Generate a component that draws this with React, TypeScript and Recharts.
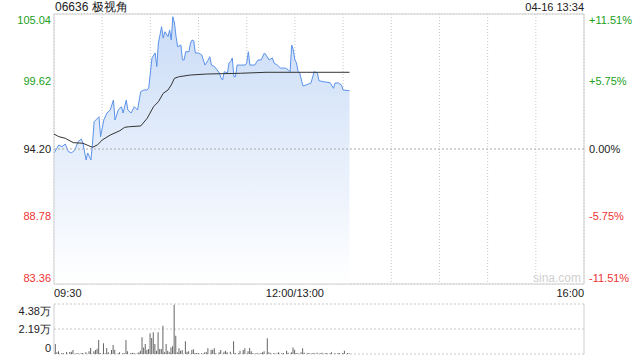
import { ComposedChart, Area, Line, Bar, XAxis, YAxis, CartesianGrid, ReferenceArea, ReferenceLine } from 'recharts'

const basePrice = 94.2
const priceTicks = [83.36, 88.78, 94.2, 99.62, 105.04]
const volTicks = [0, 21900, 43800]
const gridTimes = [0, 30, 60, 90, 120, 150, 180, 210, 240, 270, 300, 330]
const timeLabels: Record<number, string> = { 0: '09:30', 150: '12:00/13:00', 330: '16:00' }

// minutes since 09:30 (lunch removed) and last price
const priceT = [0, 3, 5, 7, 9, 11, 13, 15, 17, 18, 20, 21, 23, 24, 25, 28, 29, 31, 33, 35, 37, 38, 40, 42, 43, 45, 46, 48, 50, 52, 54, 56, 58, 59, 61, 63, 64, 65, 67, 68, 69, 71, 72, 73, 74, 75, 76, 77, 79, 80, 81, 82, 84, 85, 86, 87, 88, 90, 92, 94, 96, 97, 98, 100, 103, 104, 105, 106, 108, 109, 110, 111, 112, 113, 114, 116, 119, 120, 121, 122, 125, 127, 129, 131, 132, 134, 136, 137, 139, 141, 144, 146, 147, 148, 149, 150, 151, 152, 153, 155, 157, 160, 162, 164, 165, 168, 172, 174, 175, 177, 179, 180, 184]
const priceV = [93.88, 94.52, 94.38, 94.6, 93.98, 93.9, 94.12, 94.79, 95.0, 94.68, 93.32, 93.88, 93.32, 94.68, 96.39, 96.79, 95.19, 96.53, 97.09, 97.33, 98.13, 96.53, 97.33, 97.6, 97.09, 98.13, 97.33, 97.09, 97.6, 97.33, 98.8, 98.94, 98.94, 99.1, 101.51, 101.91, 100.81, 102.71, 104.02, 103.11, 103.62, 103.22, 103.76, 102.95, 104.82, 104.32, 103.22, 102.41, 102.55, 101.35, 101.35, 102.01, 102.01, 102.71, 102.95, 102.9, 101.91, 101.91, 101.75, 100.94, 101.35, 101.61, 100.94, 100.81, 100.3, 99.9, 99.74, 100.41, 100.3, 101.11, 101.21, 101.51, 100.01, 100.01, 100.94, 100.94, 100.94, 101.11, 102.01, 100.94, 100.94, 101.35, 101.35, 101.91, 101.75, 101.35, 101.51, 101.11, 100.94, 100.7, 100.7, 100.54, 100.41, 102.55, 102.15, 101.35, 101.11, 100.41, 100.3, 99.26, 99.34, 99.5, 100.41, 100.3, 99.68, 99.6, 99.52, 99.07, 99.5, 99.5, 99.34, 98.94, 98.88]

const avgT = [0, 3, 7, 12, 18, 22, 24, 27, 30, 35, 41, 44, 47, 54, 58, 62, 65, 68, 71, 73, 75, 78, 85, 95, 116, 132, 157, 184]
const avgV = [95.4, 95.19, 95.06, 94.71, 94.66, 94.44, 94.34, 94.52, 94.92, 95.32, 95.67, 95.94, 95.99, 96.05, 96.66, 97.6, 98.0, 98.67, 98.94, 99.34, 99.88, 100.01, 100.14, 100.22, 100.28, 100.36, 100.36, 100.36]

const volT = [1, 2, 3, 5, 6, 8, 10, 11, 12, 14, 15, 17, 18, 20, 22, 23, 25, 26, 27, 28, 29, 31, 32, 33, 34, 36, 37, 38, 40, 41, 43, 44, 45, 46, 48, 49, 50, 52, 53, 54, 55, 56, 57, 58, 59, 60, 61, 62, 63, 64, 65, 66, 67, 68, 69, 70, 71, 72, 73, 74, 75, 76, 77, 78, 79, 80, 82, 83, 84, 86, 87, 88, 89, 90, 92, 94, 95, 96, 98, 99, 100, 101, 103, 104, 106, 107, 108, 110, 112, 113, 115, 116, 118, 119, 121, 122, 123, 124, 126, 127, 129, 130, 131, 133, 134, 135, 137, 139, 140, 142, 143, 145, 146, 148, 149, 150, 151, 152, 154, 155, 156, 158, 159, 161, 162, 164, 166, 167, 169, 170, 172, 173, 175, 177, 178, 180, 181, 183, 184]
const volV = [8760, 1500, 2300, 900, 600, 1750, 1750, 2000, 3500, 600, 600, 600, 900, 1500, 2300, 5260, 2300, 3500, 4700, 12260, 900, 9340, 600, 5260, 1500, 3500, 7880, 3800, 600, 1500, 600, 600, 12260, 2300, 600, 1200, 900, 600, 1500, 2900, 14600, 5800, 8760, 3500, 4400, 18100, 14000, 19000, 8760, 2900, 19000, 4400, 4400, 24800, 1500, 8760, 2900, 1500, 5800, 6700, 43200, 16060, 1500, 5000, 2900, 3500, 11100, 2000, 2300, 3500, 4100, 600, 900, 900, 600, 1500, 1500, 5000, 3800, 3800, 5000, 600, 1500, 3500, 2000, 2900, 1500, 2000, 11100, 900, 600, 2900, 3500, 5000, 2300, 5260, 2300, 900, 600, 600, 900, 1500, 2300, 13700, 1500, 600, 900, 600, 1500, 600, 900, 2900, 1200, 1500, 5800, 3800, 900, 600, 1500, 5000, 1200, 600, 900, 600, 900, 1200, 600, 1200, 600, 900, 600, 1500, 600, 900, 600, 900, 2900, 900, 600]

const priceData = priceT.map((t, i) => ({ t, p: priceV[i] }))
const avgData = avgT.map((t, i) => ({ t, a: avgV[i] }))
const volData = volT.map((t, i) => ({ t, v: volV[i] }))

const UP = '#21a021'
const DOWN = '#ee3333'
const FONT = 'Arial, "Liberation Sans", sans-serif'

function colorFor(v: number) {
  if (Math.abs(v - basePrice) < 0.001) return '#222'
  return v > basePrice ? UP : DOWN
}

function edgeShift(index: number, count: number) {
  if (index === 0) return -6
  if (index === count - 1) return 6
  return 0
}

function PriceTick(props: any) {
  const { y, payload, index } = props
  const v = payload.value as number
  return (
    <text x={51} y={y + edgeShift(index, priceTicks.length)} dy="0.35em" textAnchor="end" fontSize={11} fontFamily={FONT} fill={colorFor(v)}>
      {v.toFixed(2)}
    </text>
  )
}

function PctTick(props: any) {
  const { y, payload, index } = props
  const v = payload.value as number
  const pct = (v / basePrice - 1) * 100
  const s = Math.abs(pct) < 0.001 ? '0.00%' : (pct > 0 ? '+' : '') + pct.toFixed(2) + '%'
  return (
    <text x={589} y={y + edgeShift(index, priceTicks.length)} dy="0.35em" textAnchor="start" fontSize={11} fontFamily={FONT} fill={colorFor(v)}>
      {s}
    </text>
  )
}

function TimeTick(props: any) {
  const { x, y, payload } = props
  const label = timeLabels[payload.value]
  if (!label) return null
  const anchor = payload.value === 0 ? 'start' : payload.value === 330 ? 'end' : 'middle'
  return (
    <text x={x} y={y} dy={5} textAnchor={anchor} fontSize={11} fontFamily={FONT} fill="#222">
      {label}
    </text>
  )
}

function VolTick(props: any) {
  const { y, payload, index } = props
  const v = payload.value as number
  const s = v === 0 ? '0' : (v / 10000).toFixed(2) + '万'
  const shift = index === 0 ? -6 : index === volTicks.length - 1 ? 7 : 0
  return (
    <text x={51} y={y + shift} dy="0.35em" textAnchor="end" fontSize={11} fontFamily={FONT} fill="#222">
      {s}
    </text>
  )
}

export default function App() {
  return (
    <div style={{ position: 'absolute', left: 0, top: 0, width: 640, height: 360, background: '#fff', fontFamily: FONT }}>
      <div style={{ position: 'absolute', left: 55, top: 0, fontSize: 12, color: '#222', lineHeight: '15px' }}>06636 极视角</div>
      <div style={{ position: 'absolute', right: 56, top: 0, fontSize: 11, color: '#222', lineHeight: '15px' }}>04-16 13:34</div>
      <div style={{ position: 'absolute', left: 533, top: 271, fontSize: 12, color: '#d0d0d0', lineHeight: '15px' }}>sina.com</div>

      <div style={{ position: 'absolute', left: 0, top: 0 }}>
        <ComposedChart width={640} height={300} margin={{ top: 14, right: 0, bottom: 0, left: 0 }}>
          <defs>
            <linearGradient id="pfill" x1="0" y1="0" x2="0" y2="1">
              <stop offset="0%" stopColor="#cadcf7" />
              <stop offset="100%" stopColor="#ffffff" />
            </linearGradient>
          </defs>
          <CartesianGrid stroke="#c8c8c8" strokeDasharray="1 2" />
          <XAxis dataKey="t" type="number" domain={[0, 330]} ticks={gridTimes} interval={0} axisLine={false} tickLine={false} height={16} tick={<TimeTick />} allowDataOverflow />
          <YAxis yAxisId="p" type="number" domain={[83.36, 105.04]} ticks={priceTicks} interval={0} width={54} axisLine={false} tickLine={false} tick={<PriceTick />} allowDataOverflow />
          <YAxis yAxisId="pct" orientation="right" type="number" domain={[83.36, 105.04]} ticks={priceTicks} interval={0} width={56} axisLine={false} tickLine={false} tick={<PctTick />} allowDataOverflow />
          <ReferenceLine yAxisId="p" y={basePrice} stroke="#aaa" strokeDasharray="2 2" />
          <Area yAxisId="p" data={priceData} dataKey="p" type="linear" stroke="#5b92ea" strokeWidth={1} fill="url(#pfill)" fillOpacity={1} dot={false} activeDot={false} isAnimationActive={false} />
          <Line yAxisId="p" data={avgData} dataKey="a" type="linear" stroke="#333" strokeWidth={1} dot={false} activeDot={false} isAnimationActive={false} />
          <ReferenceArea yAxisId="p" x1={0} x2={330} y1={83.36} y2={105.04} fill="none" stroke="#cfcfcf" strokeWidth={1} />
        </ComposedChart>
      </div>

      <div style={{ position: 'absolute', left: 0, top: 296 }}>
        <ComposedChart width={640} height={64} data={volData} margin={{ top: 8, right: 56, bottom: 6, left: 0 }}>
          <CartesianGrid stroke="#c8c8c8" strokeDasharray="2 2" vertical={false} />
          <XAxis dataKey="t" type="number" domain={[0, 330]} hide allowDataOverflow />
          <YAxis type="number" domain={[0, 43800]} ticks={volTicks} interval={0} width={54} axisLine={false} tickLine={false} tick={<VolTick />} allowDataOverflow />
          <ReferenceLine x={0} stroke="#cfcfcf" />
          <ReferenceLine x={330} stroke="#cfcfcf" />
          <Bar dataKey="v" fill="#666" barSize={1} isAnimationActive={false} />
        </ComposedChart>
      </div>
    </div>
  )
}
